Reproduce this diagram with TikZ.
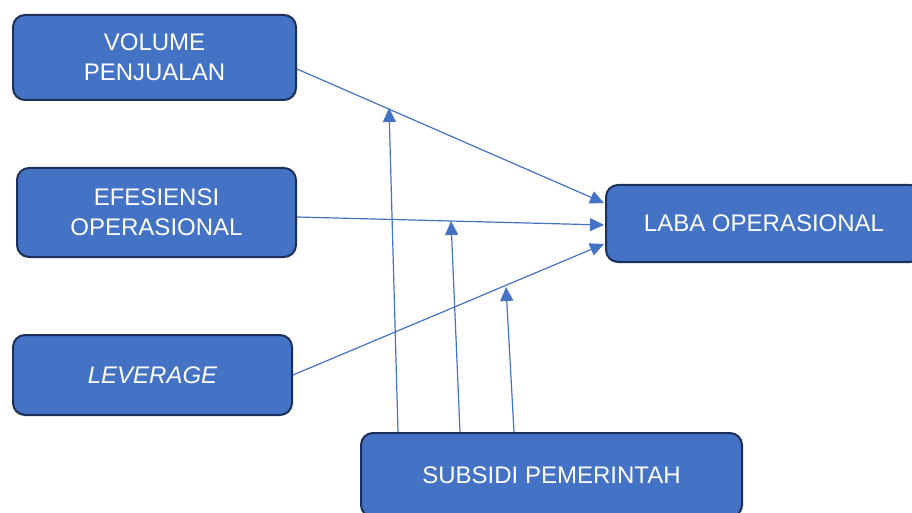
\documentclass[tikz,border=0pt]{standalone}
\usepackage{fontspec}
\setmainfont{Liberation Sans}
\usetikzlibrary{arrows.meta,calc}
\definecolor{boxfill}{HTML}{4472C4}
\definecolor{boxline}{HTML}{1C3059}
\definecolor{arrowc}{HTML}{4472C4}
\tikzset{
  varbox/.style={draw=boxline, line width=2pt, fill=boxfill, rounded corners=12pt,
    text=white, align=center, inner sep=0pt,
    font=\fontsize{24}{30}\selectfont},
  link/.style={draw=arrowc, line width=1.2pt, -{Triangle[length=14pt,width=13pt]}}
}
\begin{document}
\begin{tikzpicture}[x=1pt,y=-1pt]
\useasboundingbox (0,0) rectangle (912,513);
\node[varbox, minimum width=283pt, minimum height=85pt] (volume) at (154.5,57.5) {VOLUME\\PENJUALAN};
\node[varbox, minimum width=279pt, minimum height=89pt] (efesiensi) at (156.5,212.5) {EFESIENSI\\OPERASIONAL};
\node[varbox, minimum width=279pt, minimum height=80pt] (leverage) at (152.5,375) {\itshape LEVERAGE};
\node[varbox, minimum width=316pt, minimum height=77pt] (laba) at (764,223.5) {LABA OPERASIONAL};
\node[varbox, minimum width=381pt, minimum height=84pt] (subsidi) at (551.5,475) {SUBSIDI PEMERINTAH};
\coordinate (m1) at (389,108);
\coordinate (m2) at (451,221);
\coordinate (m3) at (506,287);
\draw[link] ($(volume.east)+(0,11.5)$) -- ($(laba.west)+(-1,-20.5)$);
\draw[link] ($(efesiensi.east)+(0,4.5)$) -- ($(laba.west)+(-1,1.5)$);
\draw[link] (leverage.east) -- ($(laba.west)+(-1,20.5)$);
\draw[link] ($(subsidi.north)+(-153.5,0)$) -- (m1);
\draw[link] ($(subsidi.north)+(-91.5,0)$) -- (m2);
\draw[link] ($(subsidi.north)+(-37.5,0)$) -- (m3);
\end{tikzpicture}
\end{document}
